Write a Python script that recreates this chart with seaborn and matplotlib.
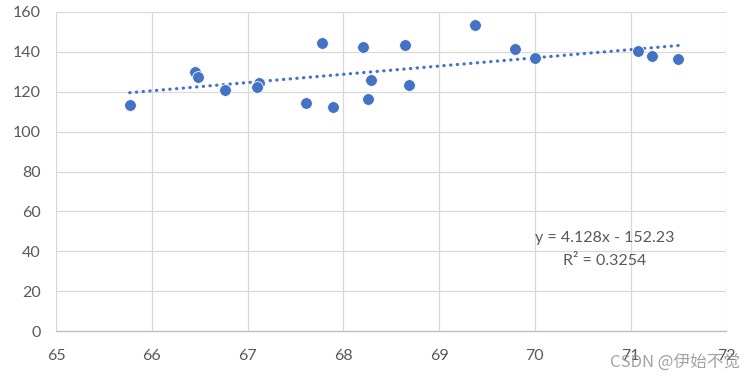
import numpy as np
import pandas as pd
import seaborn as sns
import matplotlib.pyplot as plt

# data
height = [65.77, 66.45, 66.48, 66.77, 67.12, 67.10, 67.61, 67.78, 67.89, 68.21,
          68.29, 68.26, 68.64, 68.69, 69.38, 69.79, 70.00, 71.08, 71.22, 71.50]
weight = [113.2, 129.8, 127.5, 120.8, 124.3, 122.5, 114.2, 144.5, 112.3, 142.5,
          125.8, 116.2, 143.2, 123.3, 153.2, 141.5, 136.7, 140.2, 138.0, 136.5]
x_ticks = [65, 66, 67, 68, 69, 70, 71, 72]
y_ticks = [0, 20, 40, 60, 80, 100, 120, 140, 160]
eq_label = "y = 4.128x - 152.23"
r2_label = "R² = 0.3254"
watermark = "CSDN @伊始不觉"

df = pd.DataFrame({"x": height, "y": weight})

sns.set_theme(style="white")
plt.rcParams["font.family"] = ["Lato", "DejaVu Sans"]

blue = "#4472C4"
text_grey = "#595959"

fig = plt.figure(figsize=(7.55, 3.81), dpi=100)
ax = fig.add_axes([56 / 755, (381 - 331.3) / 381, (726.3 - 56) / 755, (331.3 - 11.7) / 381])

# dotted linear trendline over the data range
sns.regplot(data=df, x="x", y="y", scatter=False, ci=None, ax=ax,
            line_kws={"color": blue, "linestyle": (0, (0.1, 2.0)),
                      "linewidth": 2.3, "dash_capstyle": "round"})

sns.scatterplot(data=df, x="x", y="y", ax=ax, s=72, color=blue,
                edgecolor="white", linewidth=0.6, zorder=3)

ax.set_xlim(65, 72)
ax.set_ylim(0, 160)
ax.set_xticks(x_ticks)
ax.set_yticks(y_ticks)
ax.set_xlabel("")
ax.set_ylabel("")
ax.grid(True, color="#D9D9D9", linewidth=0.9)
ax.set_axisbelow(True)
for side in ["top", "right", "left"]:
    ax.spines[side].set_visible(False)
ax.spines["bottom"].set_color("#BFBFBF")
ax.spines["bottom"].set_linewidth(1)
ax.tick_params(axis="both", length=0, labelsize=11.5, labelcolor=text_grey)
ax.tick_params(axis="y", pad=11)
ax.tick_params(axis="x", pad=13)

ax.text(70.73, 46.6, eq_label, ha="center", va="center", fontsize=11.5, color=text_grey)
ax.text(70.73, 35.3, r2_label, ha="center", va="center", fontsize=11.5, color=text_grey)

fig.text(740 / 755, 1 - 362 / 381, watermark, ha="right", va="center",
         fontsize=12, color="#8c8c8c", alpha=0.8,
         family=["Noto Sans CJK SC", "DejaVu Sans"])

fig.savefig("out.png", dpi=100)
